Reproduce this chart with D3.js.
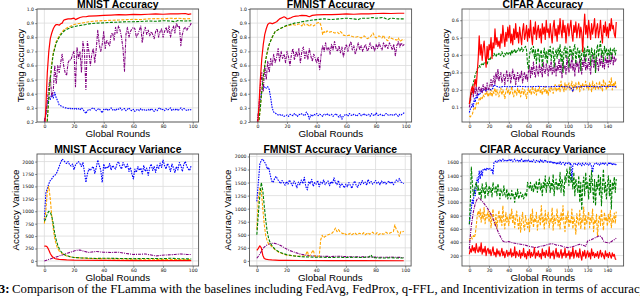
<!DOCTYPE html>
<html>
<head>
<meta charset="utf-8">
<script src="https://cdn.jsdelivr.net/npm/d3@7"></script>
<style>
  body { margin: 0; background: #fff; }
  svg { display: block; }
  .tick text { font-family: "DejaVu Sans", sans-serif; font-size: 4.6px; fill: #111; }
  .title { font-family: "Liberation Sans", Arial, sans-serif; font-weight: bold; font-size: 10.4px; }
  .lab { font-family: "Liberation Sans", Arial, sans-serif; font-size: 9.8px; }
</style>
</head>
<body>
<div id="chart"></div>
<script>
// ---- rounds / ticks ----
const xTicks100 = [0, 20, 40, 60, 80, 100];
const xTicks150 = [0, 20, 40, 60, 80, 100, 120, 140];
const accTicks = [0.2, 0.3, 0.4, 0.5, 0.6, 0.7, 0.8, 0.9, 1.0];
const cifarAccTicks = [0.1, 0.2, 0.3, 0.4, 0.5, 0.6];
const varTicks = [0, 250, 500, 750, 1000, 1250, 1500, 1750, 2000];
const cifarVarTicks = [200, 400, 600, 800, 1000, 1200, 1400, 1600];

// ---- MNIST accuracy ----
const mnistAccRed = [[0,0.1],[1,0.3],[2,0.55],[3,0.7],[4,0.79],[5,0.83],[6,0.86],[7,0.88],[8,0.89],[9,0.89],[10,0.885],[11,0.895],[12,0.9],[13,0.92],[14,0.925],[16,0.93],[18,0.93],[20,0.935],[21,0.925],[22,0.93],[24,0.94],[26,0.945],[28,0.945],[30,0.95],[35,0.952],[40,0.955],[45,0.957],[50,0.96],[55,0.958],[60,0.962],[65,0.96],[70,0.963],[75,0.965],[80,0.963],[85,0.966],[90,0.965],[95,0.968],[97,0.962],[99,0.965]];
const mnistAccOrange = [[0,0.08],[1,0.12],[2,0.22],[3,0.38],[4,0.52],[5,0.62],[6,0.69],[7,0.73],[8,0.77],[9,0.79],[10,0.81],[12,0.84],[14,0.86],[16,0.87],[18,0.88],[20,0.89],[22,0.895],[25,0.9],[28,0.905],[30,0.91],[35,0.915],[40,0.918],[45,0.92],[50,0.922],[55,0.925],[60,0.927],[65,0.925],[70,0.93],[75,0.932],[80,0.93],[85,0.935],[88,0.932],[90,0.935],[95,0.93],[99,0.932]];
const mnistAccGreen = [[0,0.08],[1,0.12],[2,0.21],[3,0.37],[4,0.5],[5,0.6],[6,0.68],[7,0.72],[8,0.76],[9,0.78],[10,0.8],[12,0.83],[14,0.85],[16,0.86],[18,0.87],[20,0.875],[22,0.88],[25,0.885],[28,0.89],[30,0.895],[35,0.9],[40,0.902],[45,0.905],[50,0.907],[55,0.91],[60,0.91],[65,0.912],[70,0.915],[75,0.913],[80,0.917],[85,0.915],[88,0.91],[90,0.918],[95,0.915],[99,0.917]];
const mnistAccPurple = [0.21,0.25,0.35,0.45,0.52,0.38,0.42,0.6,0.47,0.6,
  0.55,0.62,0.68,0.6,0.55,0.53,0.62,0.64,0.64,0.68,
  0.7,0.45,0.73,0.65,0.7,0.55,0.77,0.7,0.43,0.77,
  0.7,0.6,0.68,0.72,0.62,0.72,0.85,0.75,0.7,0.75,
  0.84,0.72,0.78,0.76,0.74,0.82,0.83,0.78,0.87,0.83,
  0.88,0.85,0.8,0.72,0.56,0.82,0.87,0.8,0.84,0.86,
  0.87,0.86,0.8,0.82,0.85,0.88,0.76,0.84,0.87,0.82,
  0.85,0.81,0.84,0.82,0.79,0.84,0.86,0.8,0.84,0.86,
  0.8,0.84,0.87,0.83,0.88,0.8,0.85,0.88,0.83,0.9,
  0.87,0.88,0.74,0.82,0.86,0.87,0.85,0.87,0.88,0.9];
const mnistAccBlue = [0.2,0.25,0.33,0.38,0.36,0.4,0.37,0.41,0.37,0.35,
  0.32,0.315,0.31,0.305,0.3,0.3,0.295,0.3,0.29,0.295,
  0.29,0.3,0.29,0.295,0.285,0.3,0.29,0.275,0.26,0.28,
  0.29,0.285,0.295,0.3,0.29,0.28,0.29,0.295,0.28,0.265,
  0.29,0.285,0.295,0.28,0.29,0.3,0.285,0.29,0.28,0.295,
  0.29,0.3,0.285,0.29,0.295,0.28,0.29,0.3,0.285,0.28,
  0.29,0.275,0.285,0.29,0.28,0.295,0.285,0.29,0.28,0.285,
  0.29,0.28,0.295,0.285,0.275,0.29,0.28,0.295,0.3,0.285,
  0.29,0.28,0.295,0.285,0.29,0.3,0.28,0.29,0.285,0.295,
  0.28,0.29,0.3,0.285,0.295,0.29,0.28,0.285,0.29,0.285];

// ---- FMNIST accuracy ----
const fmnistAccRed = [[0,0.15],[1,0.3],[2,0.5],[3,0.65],[4,0.75],[5,0.82],[6,0.86],[7,0.89],[8,0.9],[9,0.9],[10,0.895],[11,0.9],[12,0.905],[13,0.91],[14,0.92],[15,0.93],[17,0.94],[18,0.945],[19,0.94],[20,0.93],[21,0.932],[22,0.935],[24,0.945],[26,0.95],[28,0.952],[30,0.955],[33,0.953],[35,0.945],[37,0.955],[40,0.958],[45,0.96],[50,0.96],[55,0.962],[60,0.965],[65,0.963],[70,0.966],[75,0.965],[80,0.968],[85,0.97],[90,0.968],[95,0.97],[99,0.97]];
const fmnistAccOrange = [[0,0.12],[1,0.2],[2,0.3],[3,0.42],[4,0.52],[5,0.6],[6,0.66],[7,0.71],[8,0.75],[10,0.8],[12,0.84],[15,0.86],[18,0.875],[20,0.88],[22,0.885],[24,0.89],[26,0.885],[28,0.895],[30,0.88],[31,0.9],[32,0.885],[34,0.89],[35,0.875],[36,0.89],[38,0.88],[40,0.9],[42,0.905],[43,0.88],[44,0.82],[45,0.84],[46,0.83],[47,0.845],[48,0.835],[50,0.84],[52,0.83],[54,0.835],[55,0.825],[56,0.84],[57,0.83],[58,0.815],[60,0.81],[62,0.815],[64,0.805],[66,0.8],[68,0.805],[70,0.795],[72,0.81],[74,0.79],[76,0.8],[78,0.83],[79,0.805],[80,0.795],[82,0.81],[84,0.795],[85,0.815],[86,0.79],[88,0.775],[89,0.805],[90,0.795],[92,0.785],[94,0.78],[95,0.795],[96,0.77],[98,0.785],[99,0.78]];
const fmnistAccGreen = [[0,0.12],[1,0.2],[2,0.3],[3,0.42],[4,0.52],[5,0.6],[6,0.66],[7,0.71],[8,0.75],[10,0.8],[12,0.84],[15,0.86],[18,0.875],[20,0.885],[22,0.89],[25,0.9],[28,0.905],[30,0.91],[33,0.915],[36,0.92],[40,0.925],[45,0.93],[50,0.925],[55,0.93],[60,0.935],[65,0.93],[68,0.925],[70,0.935],[75,0.935],[78,0.94],[80,0.935],[85,0.94],[88,0.925],[90,0.935],[95,0.93],[99,0.93]];
const fmnistAccPurple = [0.2,0.3,0.45,0.55,0.42,0.6,0.5,0.63,0.55,0.65,
  0.6,0.68,0.62,0.66,0.72,0.63,0.7,0.65,0.68,0.62,
  0.7,0.66,0.6,0.68,0.72,0.64,0.7,0.66,0.72,0.62,
  0.7,0.73,0.65,0.7,0.64,0.72,0.67,0.63,0.68,0.65,
  0.62,0.66,0.57,0.68,0.74,0.7,0.76,0.71,0.73,0.68,
  0.75,0.71,0.77,0.72,0.7,0.74,0.69,0.73,0.66,0.72,
  0.75,0.7,0.74,0.77,0.71,0.74,0.68,0.72,0.76,0.71,
  0.74,0.7,0.73,0.75,0.7,0.72,0.76,0.72,0.74,0.7,
  0.75,0.72,0.76,0.73,0.71,0.76,0.73,0.75,0.72,0.76,
  0.74,0.71,0.75,0.67,0.74,0.77,0.73,0.76,0.74,0.75];
const fmnistAccBlue = [0.19,0.28,0.36,0.42,0.44,0.45,0.44,0.45,0.43,0.37,
  0.3,0.27,0.265,0.255,0.25,0.255,0.245,0.25,0.24,0.245,
  0.25,0.24,0.255,0.25,0.245,0.26,0.25,0.24,0.255,0.25,
  0.26,0.25,0.245,0.27,0.255,0.22,0.25,0.24,0.255,0.25,
  0.26,0.245,0.255,0.25,0.24,0.255,0.25,0.26,0.245,0.25,
  0.255,0.24,0.25,0.26,0.245,0.235,0.25,0.22,0.245,0.25,
  0.255,0.24,0.26,0.25,0.245,0.255,0.25,0.24,0.255,0.26,
  0.245,0.25,0.26,0.245,0.25,0.255,0.24,0.26,0.25,0.245,
  0.265,0.25,0.245,0.255,0.25,0.24,0.255,0.26,0.25,0.245,
  0.255,0.25,0.245,0.26,0.25,0.24,0.255,0.25,0.26,0.265];

// ---- CIFAR accuracy ----
const cifarAccRed = [0.12,0.16,0.2,0.22,0.18,0.23,0.26,0.22,0.3,0.38,
  0.51,0.4,0.46,0.37,0.44,0.48,0.4,0.33,0.45,0.38,
  0.46,0.43,0.5,0.38,0.47,0.44,0.55,0.46,0.5,0.45,
  0.48,0.44,0.52,0.47,0.57,0.5,0.45,0.53,0.48,0.56,
  0.5,0.57,0.47,0.52,0.46,0.55,0.49,0.58,0.5,0.53,
  0.47,0.56,0.51,0.46,0.54,0.58,0.49,0.52,0.57,0.48,
  0.55,0.5,0.6,0.51,0.46,0.56,0.52,0.59,0.49,0.54,
  0.57,0.5,0.55,0.47,0.58,0.52,0.56,0.49,0.6,0.53,
  0.55,0.5,0.58,0.52,0.47,0.56,0.6,0.51,0.55,0.48,
  0.57,0.52,0.61,0.54,0.5,0.6,0.53,0.57,0.47,0.55,
  0.58,0.51,0.56,0.6,0.52,0.48,0.57,0.53,0.59,0.5,
  0.55,0.58,0.5,0.56,0.53,0.42,0.55,0.635,0.52,0.57,
  0.5,0.6,0.54,0.49,0.58,0.52,0.56,0.61,0.5,0.55,
  0.58,0.5,0.54,0.6,0.52,0.47,0.57,0.53,0.59,0.51,
  0.56,0.5,0.58,0.54,0.61,0.55,0.57,0.52,0.5,0.59];
const cifarAccGreen = [0.12,0.15,0.19,0.21,0.24,0.26,0.29,0.3,0.32,0.33,
  0.34,0.33,0.345,0.35,0.34,0.355,0.35,0.36,0.345,0.37,
  0.38,0.37,0.39,0.4,0.395,0.41,0.4,0.39,0.405,0.4,
  0.41,0.395,0.4,0.42,0.405,0.39,0.41,0.4,0.415,0.4,
  0.41,0.42,0.4,0.43,0.41,0.42,0.435,0.41,0.42,0.43,
  0.44,0.42,0.43,0.445,0.42,0.43,0.44,0.45,0.43,0.35,
  0.32,0.4,0.43,0.44,0.41,0.45,0.38,0.43,0.35,0.42,
  0.44,0.36,0.41,0.43,0.33,0.4,0.44,0.38,0.42,0.35,
  0.43,0.4,0.45,0.37,0.42,0.44,0.33,0.41,0.43,0.38,
  0.44,0.4,0.46,0.36,0.42,0.3,0.43,0.45,0.38,0.44,
  0.41,0.33,0.45,0.4,0.43,0.37,0.44,0.46,0.35,0.42,
  0.44,0.38,0.43,0.31,0.41,0.45,0.39,0.44,0.36,0.42,
  0.45,0.4,0.43,0.34,0.44,0.41,0.38,0.43,0.3,0.42,
  0.46,0.39,0.44,0.48,0.4,0.43,0.36,0.45,0.41,0.44,
  0.38,0.43,0.4,0.44,0.37,0.43,0.42,0.44,0.4,0.43];
const cifarAccPurple = [0.1,0.13,0.17,0.2,0.16,0.21,0.18,0.22,0.17,0.2,
  0.22,0.19,0.21,0.18,0.23,0.2,0.22,0.19,0.24,0.21,
  0.2,0.23,0.26,0.22,0.25,0.28,0.23,0.3,0.26,0.32,
  0.25,0.28,0.3,0.24,0.27,0.29,0.23,0.28,0.31,0.25,
  0.27,0.3,0.24,0.28,0.32,0.26,0.29,0.23,0.27,0.3,
  0.25,0.29,0.27,0.31,0.24,0.28,0.3,0.26,0.29,0.25,
  0.31,0.34,0.27,0.33,0.29,0.36,0.3,0.27,0.34,0.31,
  0.28,0.35,0.3,0.33,0.27,0.36,0.31,0.29,0.35,0.32,
  0.28,0.34,0.31,0.37,0.29,0.33,0.3,0.36,0.28,0.34,
  0.31,0.38,0.3,0.35,0.27,0.37,0.32,0.34,0.29,0.39,
  0.33,0.3,0.36,0.32,0.4,0.31,0.35,0.28,0.37,0.33,
  0.36,0.3,0.38,0.34,0.29,0.37,0.33,0.4,0.31,0.35,
  0.32,0.38,0.34,0.29,0.36,0.4,0.33,0.37,0.3,0.39,
  0.35,0.31,0.38,0.34,0.41,0.33,0.37,0.32,0.39,0.35,
  0.38,0.33,0.4,0.35,0.37,0.41,0.34,0.39,0.36,0.38];
const cifarAccOrange = [0.05,0.045,0.055,0.06,0.08,0.1,0.09,0.12,0.13,0.12,
  0.15,0.14,0.16,0.15,0.17,0.16,0.18,0.17,0.19,0.16,
  0.18,0.17,0.2,0.16,0.19,0.18,0.21,0.17,0.2,0.18,
  0.16,0.19,0.21,0.17,0.2,0.18,0.15,0.19,0.21,0.18,
  0.2,0.17,0.19,0.22,0.18,0.16,0.2,0.19,0.17,0.21,
  0.18,0.2,0.16,0.19,0.21,0.17,0.2,0.18,0.15,0.19,
  0.21,0.18,0.2,0.17,0.22,0.19,0.18,0.21,0.17,0.2,
  0.19,0.22,0.18,0.2,0.17,0.21,0.19,0.22,0.18,0.2,
  0.17,0.21,0.19,0.22,0.2,0.18,0.21,0.23,0.19,0.21,
  0.2,0.23,0.19,0.25,0.21,0.22,0.19,0.24,0.2,0.23,
  0.21,0.24,0.2,0.22,0.25,0.19,0.23,0.21,0.24,0.2,
  0.22,0.25,0.19,0.23,0.21,0.24,0.2,0.22,0.25,0.21,
  0.23,0.2,0.24,0.22,0.19,0.25,0.21,0.23,0.2,0.24,
  0.22,0.2,0.25,0.21,0.23,0.19,0.26,0.22,0.24,0.2,
  0.23,0.21,0.25,0.22,0.27,0.2,0.24,0.22,0.25,0.21];
const cifarAccBlue = [[0,0.07],[1,0.09],[2,0.1],[3,0.12],[4,0.1],[5,0.15],[6,0.13],[7,0.17],[8,0.15],[9,0.18],[10,0.17],[12,0.19],[14,0.2],[16,0.195],[18,0.2],[20,0.205],[22,0.2],[24,0.21],[25,0.23],[26,0.225],[28,0.22],[30,0.215],[35,0.22],[40,0.218],[50,0.22],[60,0.218],[70,0.22],[80,0.218],[90,0.22],[100,0.218],[103,0.215],[104,0.2],[105,0.19],[106,0.215],[110,0.218],[120,0.22],[130,0.218],[140,0.22],[149,0.218]];

// ---- MNIST variance ----
const mnistVarBlue = [830,1360,1460,1550,1620,1650,1700,1720,1750,1820,
  1900,1980,2050,2020,1990,1960,2000,1940,1910,1950,
  1840,1930,1970,2000,1960,1900,1980,1800,1580,1750,
  1850,1820,1870,1900,1760,1880,2030,1920,1830,1580,
  1950,1850,1900,1870,1960,1830,1920,1880,1850,1960,
  2000,1900,1850,1980,1920,1870,1950,1800,1880,1750,
  1650,1850,1780,1900,1820,1870,1750,1920,1800,1870,
  1720,1880,1950,1820,1900,1780,1930,1850,1970,1880,
  2030,1920,1850,1960,1900,1800,1950,1870,1780,1900,
  1830,1980,1920,1800,1950,2000,1900,1850,1820,1930];
const mnistVarOrange = [[0,750],[1,1000],[2,1400],[3,1500],[4,1250],[5,900],[6,650],[7,450],[8,330],[9,250],[10,200],[12,150],[15,100],[18,80],[20,70],[25,60],[30,50],[40,45],[50,40],[60,35],[70,35],[80,30],[90,30],[99,30]];
const mnistVarGreen = [[0,800],[1,850],[2,950],[3,1000],[4,980],[5,900],[6,750],[7,550],[8,420],[9,320],[10,250],[11,200],[12,160],[14,120],[16,100],[18,80],[20,70],[25,60],[30,55],[35,50],[40,55],[50,50],[60,45],[70,50],[80,45],[85,55],[90,45],[99,40]];
const mnistVarRed = [[0,300],[1,300],[2,280],[3,220],[4,150],[5,100],[6,70],[7,50],[8,40],[10,30],[15,20],[20,15],[40,10],[60,8],[99,5]];
const mnistVarPurple = [[0,0],[2,20],[4,40],[6,60],[8,80],[10,100],[12,120],[14,140],[16,160],[18,180],[20,200],[22,215],[24,220],[26,200],[28,185],[30,170],[32,180],[35,190],[38,180],[40,175],[45,170],[50,175],[55,150],[60,130],[65,135],[68,140],[72,120],[75,100],[78,110],[82,120],[88,130],[92,140],[96,130],[99,130]];

// ---- FMNIST variance ----
const fmnistVarBlue = [1140,1500,1850,1930,1950,1900,1860,1760,1790,1650,
  1530,1500,1580,1620,1560,1520,1480,1540,1500,1450,
  1520,1470,1550,1490,1440,1530,1480,1400,1510,1460,
  1550,1480,1600,1420,1360,1520,1480,1560,1430,1500,
  1470,1540,1420,1510,1480,1550,1460,1500,1530,1440,
  1520,1480,1590,1500,1460,1540,1410,1480,1450,1400,
  1470,1420,1500,1450,1390,1480,1530,1440,1410,1500,
  1460,1540,1480,1510,1450,1560,1490,1520,1470,1500,
  1540,1480,1510,1460,1530,1490,1520,1470,1500,1530,
  1480,1520,1460,1500,1550,1520,1580,1510,1500,1480];
const fmnistVarOrange = [[0,600],[1,1200],[2,1400],[3,1350],[4,1000],[5,700],[6,480],[7,380],[8,320],[10,280],[12,220],[15,160],[18,130],[20,110],[24,100],[28,90],[32,95],[33,120],[34,190],[35,90],[36,110],[37,160],[38,210],[39,100],[40,80],[42,80],[43,400],[44,490],[45,440],[46,470],[47,480],[48,500],[49,510],[50,520],[51,540],[52,580],[53,630],[54,560],[55,600],[56,560],[57,540],[58,520],[59,540],[60,500],[61,520],[62,510],[63,530],[64,500],[65,520],[66,540],[67,510],[68,500],[69,530],[70,520],[71,510],[72,540],[73,500],[74,520],[75,540],[76,510],[77,530],[78,550],[79,520],[80,510],[81,540],[82,500],[83,520],[84,530],[85,510],[86,520],[87,550],[88,530],[89,520],[90,540],[91,550],[92,560],[93,690],[94,600],[95,560],[96,470],[97,560],[98,550],[99,570]];
const fmnistVarGreen = [[0,500],[1,900],[2,1250],[3,1500],[4,1350],[5,1050],[6,780],[7,560],[8,420],[9,350],[10,300],[12,230],[14,190],[16,160],[18,140],[20,120],[25,95],[30,80],[35,75],[40,70],[45,70],[50,65],[55,70],[60,65],[65,70],[70,65],[75,70],[76,85],[77,115],[78,65],[80,60],[85,55],[90,60],[95,55],[99,55]];
const fmnistVarRed = [[0,200],[1,240],[2,290],[3,250],[4,110],[5,45],[6,35],[7,28],[8,22],[10,18],[15,12],[20,10],[30,8],[50,5],[70,4],[99,3]];
const fmnistVarPurple = [[0,50],[1,90],[2,130],[3,180],[4,230],[5,265],[6,290],[7,305],[8,320],[9,330],[10,338],[11,340],[12,335],[13,330],[14,320],[15,310],[16,295],[17,280],[18,260],[19,245],[20,230],[22,200],[24,180],[26,160],[28,140],[30,125],[33,110],[36,100],[40,92],[45,88],[50,85],[55,90],[60,82],[65,78],[70,80],[75,75],[80,72],[85,70],[90,72],[95,68],[99,65]];

// ---- CIFAR variance ----
const cifarVarBlue = [670,800,900,1050,970,1200,1100,1250,1370,1300,
  1470,1350,1480,1400,1500,1490,1510,1480,1520,1500,
  1490,1510,1480,1500,1420,1600,1610,1620,1600,1630,
  1620,1640,1610,1630,1650,1620,1640,1630,1610,1640,
  1630,1650,1620,1640,1610,1630,1650,1620,1640,1630,
  1610,1640,1620,1650,1630,1600,1640,1620,1630,1610,
  1640,1620,1600,1630,1610,1640,1620,1600,1630,1610,
  1620,1600,1640,1610,1630,1600,1620,1640,1610,1600,
  1620,1610,1590,1620,1600,1580,1610,1590,1600,1570,
  1600,1580,1610,1570,1590,1600,1580,1560,1600,1590,
  1580,1600,1570,1590,1320,1560,1580,1590,1570,1580,
  1560,1590,1570,1580,1550,1590,1570,1560,1590,1570,
  1580,1560,1590,1570,1540,1450,1560,1580,1570,1590,
  1570,1580,1560,1590,1570,1580,1600,1570,1590,1580,
  1560,1590,1570,1600,1580,1560,1590,1570,1580,1560];
const cifarVarGreen = [670,1000,1530,1300,1100,1150,1250,1300,1180,1250,
  1100,1200,1050,1280,1150,1220,1050,1300,1180,1100,
  1250,1150,1220,1080,1300,1200,1150,1250,1100,1280,
  1180,1050,1200,1150,1100,1250,1120,1080,1200,1050,
  1150,1100,1050,1180,1080,1120,1000,1150,1080,1200,
  1050,1100,1150,1080,1120,1050,1100,1150,1080,1300,
  1250,1200,1300,1180,1250,1150,1280,1200,1320,1150,
  1250,1350,1180,1280,1100,1300,1220,1400,1150,1300,
  1250,1380,1150,1300,1200,1420,1100,1280,1350,1180,
  1300,1200,1450,1150,1350,1250,1100,1400,1300,1500,
  1420,1250,1530,1300,1380,1200,1450,1100,1350,1250,
  1150,1400,1000,1300,880,1250,1380,1100,1450,1200,
  1300,1050,1400,1150,1480,1250,1000,1350,950,1300,
  1200,1420,1100,1380,950,1250,1500,1150,1300,1050,
  1250,1400,1100,1350,900,1300,1200,1380,1150,1350];
const cifarVarOrange = [420,460,480,450,500,470,520,650,800,870,
  780,900,700,850,750,920,680,820,760,880,
  700,850,620,780,900,700,650,820,600,750,
  880,700,800,650,950,720,600,850,700,780,
  650,820,750,900,680,800,620,760,870,700,
  600,780,550,720,850,650,580,800,700,620,
  750,560,820,680,900,620,760,700,850,580,
  720,800,650,950,700,780,600,880,680,750,
  850,620,760,700,920,580,800,680,750,900,
  650,780,600,850,720,950,680,560,800,700,
  870,620,750,680,900,600,780,700,520,830,
  720,650,880,600,760,700,930,580,800,680,
  750,860,620,780,700,900,560,740,680,820,
  490,720,800,650,900,700,580,850,720,780,
  640,820,700,880,620,760,700,840,680,860];
const cifarVarPurple = [[0,300],[1,500],[2,650],[3,750],[4,850],[5,920],[6,980],[7,1020],[8,1050],[9,1060],[10,1070],[11,1050],[12,1030],[14,1000],[16,960],[18,920],[20,870],[22,820],[24,750],[26,680],[28,600],[30,530],[32,470],[34,420],[36,400],[40,410],[44,390],[48,380],[52,370],[56,360],[60,340],[64,330],[68,320],[72,340],[76,350],[80,370],[84,380],[88,360],[92,350],[96,330],[100,320],[104,330],[108,350],[112,370],[116,350],[118,340],[120,420],[124,440],[128,470],[132,500],[134,480],[136,420],[138,400],[142,390],[146,430],[149,460]];
const cifarVarRed = [220,300,250,350,270,320,240,380,280,250,
  330,260,390,220,300,250,340,200,280,310,
  230,290,200,260,330,210,250,180,300,220,
  270,190,240,310,200,260,170,230,280,190,
  250,210,300,180,240,200,330,170,260,220,
  190,280,160,240,200,310,180,230,150,260,
  200,290,170,250,190,220,320,160,240,200,
  270,180,230,150,300,200,250,170,280,210,
  190,330,160,240,200,270,150,230,310,180,
  250,170,220,290,160,240,200,310,170,230,
  200,270,150,250,190,320,160,230,280,180,
  240,170,300,200,130,260,190,280,160,220,
  270,180,240,150,300,200,250,170,230,190,
  260,160,220,280,180,240,200,150,270,190,
  230,170,250,200,160,240,190,220,150,140];

// ---- styles per method ----
const styles = {
  blue:   { color: "#0000ff", dash: "1.6,1",   w: 1.1 },
  orange: { color: "#ffa500", dash: "3,1.4",   w: 1.1 },
  green:  { color: "#008000", dash: "3,1.4",   w: 1.1 },
  purple: { color: "#800080", dash: "3,1,1,1", w: 1.1 },
  red:    { color: "#ff0000", dash: null,      w: 1.2 }
};

const W = 640, Hh = 299;
const pw = 161.6;
const svg = d3.select("#chart").append("svg").attr("width", W).attr("height", Hh);

// plain arrays are indexed by round, the others are [round, value] pairs
function pts(s) {
  return typeof s[0] === "number" ? s.map((v, i) => [i, v]) : s;
}

function drawPanel(p, idx) {
  const top = p.top, bottom = p.bottom;
  const x = d3.scaleLinear().domain(p.xDomain).range([p.left, p.left + pw]);
  const y = d3.scaleLinear().domain(p.yDomain).range([bottom, top]);
  const g = svg.append("g");

  // grid
  g.selectAll(".gx").data(p.xTicks).enter().append("line")
    .attr("x1", d => x(d)).attr("x2", d => x(d)).attr("y1", top).attr("y2", bottom)
    .attr("stroke", "#dcdcdc").attr("stroke-width", 0.8);
  g.selectAll(".gy").data(p.yTicks).enter().append("line")
    .attr("x1", p.left).attr("x2", p.left + pw).attr("y1", d => y(d)).attr("y2", d => y(d))
    .attr("stroke", "#dcdcdc").attr("stroke-width", 0.8);

  // series
  const clipId = "clip" + idx;
  svg.append("clipPath").attr("id", clipId).append("rect")
    .attr("x", p.left).attr("y", top).attr("width", pw).attr("height", bottom - top);
  const line = d3.line().x(d => x(d[0])).y(d => y(d[1]));
  const lg = g.append("g").attr("clip-path", `url(#${clipId})`);
  p.series.forEach(s => {
    const st = styles[s.key];
    lg.append("path")
      .attr("d", line(pts(s.data)))
      .attr("fill", "none")
      .attr("stroke", st.color)
      .attr("stroke-width", st.w)
      .attr("stroke-dasharray", st.dash)
      .attr("stroke-linejoin", "round");
  });

  // axes
  const xa = d3.axisBottom(x).tickValues(p.xTicks).tickSize(1.8).tickPadding(1.2).tickFormat(d3.format("d"));
  const ya = d3.axisLeft(y).tickValues(p.yTicks).tickSize(1.8).tickPadding(1.2).tickFormat(p.yFormat);
  const gx = g.append("g").attr("transform", `translate(0,${bottom})`).call(xa);
  const gy = g.append("g").attr("transform", `translate(${p.left},0)`).call(ya);
  [gx, gy].forEach(a => {
    a.select(".domain").remove();
    a.selectAll(".tick line").attr("stroke", "#333").attr("stroke-width", 0.6);
  });

  // frame
  g.append("rect").attr("x", p.left).attr("y", top).attr("width", pw).attr("height", bottom - top)
    .attr("fill", "none").attr("stroke", "#555").attr("stroke-width", 0.9);

  // texts
  g.append("text").attr("class", "title")
    .attr("x", p.left + pw / 2).attr("y", p.titleY).attr("text-anchor", "middle").text(p.title);
  g.append("text").attr("class", "lab")
    .attr("x", p.left + pw / 2).attr("y", p.xlabY).attr("text-anchor", "middle").text("Global Rounds");
  g.append("text").attr("class", "lab")
    .attr("transform", `translate(${p.ylabX},${(top + bottom) / 2}) rotate(-90)`)
    .attr("text-anchor", "middle").text(p.ylabel);
}

const f1 = d3.format(".1f");
const f0 = d3.format("d");

const panels = [
  { left: 37, top: 9, bottom: 122, xDomain: [-4.95, 103.95], yDomain: [0.2, 1.0], xTicks: xTicks100, yTicks: accTicks, yFormat: f1,
    title: "MNIST Accuracy", ylabel: "Testing Accuracy", titleY: 7.5, xlabY: 137.3, ylabX: 24,
    series: [{key:"blue",data:mnistAccBlue},{key:"purple",data:mnistAccPurple},{key:"orange",data:mnistAccOrange},{key:"green",data:mnistAccGreen},{key:"red",data:mnistAccRed}] },
  { left: 250, top: 9, bottom: 122, xDomain: [-4.95, 103.95], yDomain: [0.2, 1.0], xTicks: xTicks100, yTicks: accTicks, yFormat: f1,
    title: "FMNIST Accuracy", ylabel: "Testing Accuracy", titleY: 7.5, xlabY: 137.3, ylabX: 237,
    series: [{key:"blue",data:fmnistAccBlue},{key:"purple",data:fmnistAccPurple},{key:"orange",data:fmnistAccOrange},{key:"green",data:fmnistAccGreen},{key:"red",data:fmnistAccRed}] },
  { left: 462, top: 9, bottom: 122, xDomain: [-7.45, 156.45], yDomain: [0.0155, 0.6645], xTicks: xTicks150, yTicks: cifarAccTicks, yFormat: f1,
    title: "CIFAR Accuracy", ylabel: "Testing Accuracy", titleY: 7.5, xlabY: 137.3, ylabX: 449,
    series: [{key:"orange",data:cifarAccOrange},{key:"blue",data:cifarAccBlue},{key:"purple",data:cifarAccPurple},{key:"green",data:cifarAccGreen},{key:"red",data:cifarAccRed}] },
  { left: 37, top: 154, bottom: 266, xDomain: [-4.95, 103.95], yDomain: [-102, 2152], xTicks: xTicks100, yTicks: varTicks, yFormat: f0,
    title: "MNIST Accuracy Variance", ylabel: "Accuracy Variance", titleY: 152.5, xlabY: 281, ylabX: 19,
    series: [{key:"blue",data:mnistVarBlue},{key:"purple",data:mnistVarPurple},{key:"orange",data:mnistVarOrange},{key:"green",data:mnistVarGreen},{key:"red",data:mnistVarRed}] },
  { left: 249.5, top: 154, bottom: 266, xDomain: [-4.95, 103.95], yDomain: [-97.5, 2047], xTicks: xTicks100, yTicks: varTicks, yFormat: f0,
    title: "FMNIST Accuracy Variance", ylabel: "Accuracy Variance", titleY: 152.5, xlabY: 281, ylabX: 231,
    series: [{key:"blue",data:fmnistVarBlue},{key:"purple",data:fmnistVarPurple},{key:"orange",data:fmnistVarOrange},{key:"green",data:fmnistVarGreen},{key:"red",data:fmnistVarRed}] },
  { left: 462, top: 154, bottom: 266, xDomain: [-7.45, 156.45], yDomain: [43.5, 1726], xTicks: xTicks150, yTicks: cifarVarTicks, yFormat: f0,
    title: "CIFAR Accuracy Variance", ylabel: "Accuracy Variance", titleY: 152.5, xlabY: 281, ylabX: 444,
    series: [{key:"blue",data:cifarVarBlue},{key:"green",data:cifarVarGreen},{key:"orange",data:cifarVarOrange},{key:"purple",data:cifarVarPurple},{key:"red",data:cifarVarRed}] }
];

panels.forEach(drawPanel);

// caption: the source crop cuts it on both sides, so it is kept cut the same way
const capFont = "'Liberation Serif', 'Times New Roman', serif";
const capBody = "Comparison of the FLamma with the baselines including FedAvg, FedProx, q-FFL, and Incentivization in terms of accurac";
const capY = 292.5;
const probe = svg.append("text").attr("font-family", capFont).attr("font-size", 12).text(capBody);
const capSize = 12 * (640 - 12) / probe.node().getComputedTextLength();
probe.remove();
svg.append("text").attr("x", 9.5).attr("y", capY).attr("text-anchor", "end")
  .attr("font-family", capFont).attr("font-size", capSize).attr("font-weight", "bold").text("Fig. 3:");
svg.append("text").attr("x", 12).attr("y", capY)
  .attr("font-family", capFont).attr("font-size", capSize).text(capBody + "y");
</script>
</body>
</html>
